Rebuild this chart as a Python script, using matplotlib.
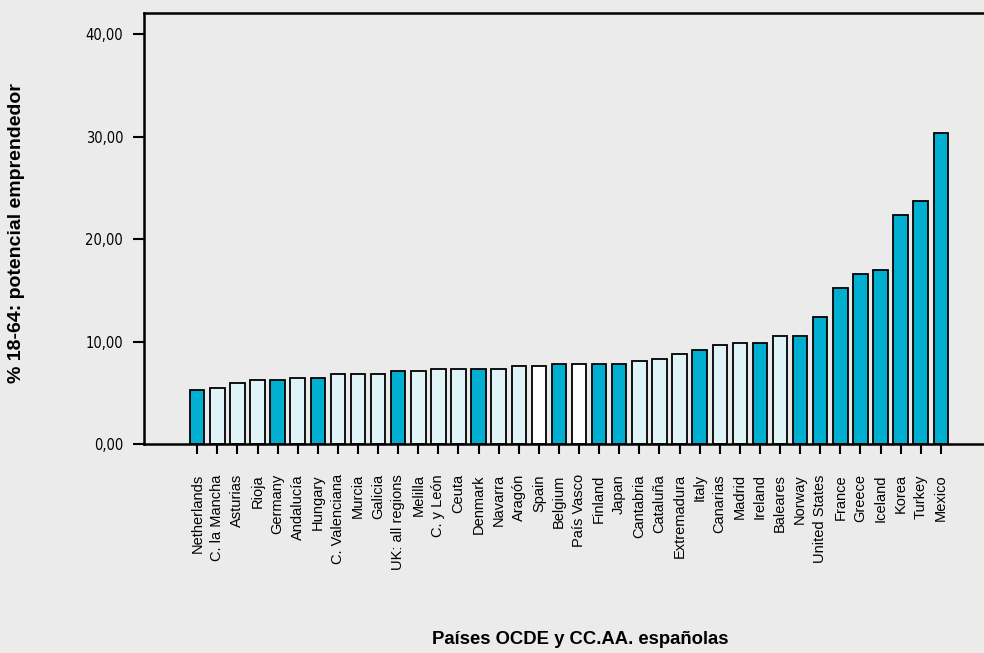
import matplotlib
matplotlib.use('Agg')
import matplotlib.pyplot as plt
from matplotlib import font_manager
import numpy as np

# Potencial emprendedor, países OCDE y CC.AA.
paises = ['Netherlands', 'C. la Mancha', 'Asturias', 'Rioja', 'Germany', 'Andalucía',
          'Hungary', 'C. Valenciana', 'Murcia', 'Galicia', 'UK: all regions', 'Melilla',
          'C. y León', 'Ceuta', 'Denmark', 'Navarra', 'Aragón', 'Spain', 'Belgium',
          'País Vasco', 'Finland', 'Japan', 'Cantabria', 'Cataluña', 'Extremadura',
          'Italy', 'Canarias', 'Madrid', 'Ireland', 'Baleares', 'Norway', 'United States',
          'France', 'Greece', 'Iceland', 'Korea', 'Turkey', 'Mexico']
valores = [5.27, 5.5, 5.95, 6.2, 6.2, 6.4, 6.4, 6.86, 6.86, 6.86, 7.12, 7.12,
           7.35, 7.35, 7.35, 7.35, 7.58, 7.58, 7.8, 7.8, 7.8, 7.8, 8.07, 8.29, 8.75,
           9.2, 9.66, 9.88, 9.88, 10.57, 10.57, 12.42, 15.19, 16.59, 17.0, 22.31, 23.68, 30.37]
# tipo: 'o' = país OCDE, 'r' = comunidad autónoma, 'e' = España / País Vasco
tipo = ['o', 'r', 'r', 'r', 'o', 'r', 'o', 'r', 'r', 'r', 'o', 'r',
        'r', 'r', 'o', 'r', 'r', 'e', 'o', 'e', 'o', 'o', 'r', 'r', 'r',
        'o', 'r', 'r', 'o', 'r', 'o', 'o', 'o', 'o', 'o', 'o', 'o', 'o']
colores = {'o': '#00AECF', 'r': '#E0F3F7', 'e': '#FFFFFF'}

# fuente estrecha para los números del eje y
nombres = {f.name for f in font_manager.fontManager.ttflist}
if 'Liberation Sans Narrow' in nombres:
    fuente_y = dict(family='Liberation Sans Narrow', fontsize=11)
else:
    fuente_y = dict(family='DejaVu Sans', stretch='condensed', fontsize=10.5)

fondo = '#EBEBEB'
fig = plt.figure(figsize=(9.84, 6.53), dpi=100, facecolor=fondo)
ax = fig.add_axes([144/984, 1-444/653, 1-144/984, (444-13)/653])
ax.set_facecolor(fondo)

x = np.arange(len(paises))
ax.bar(x, valores, width=0.72, color=[colores[t] for t in tipo],
       edgecolor='black', linewidth=1.3)

ax.set_xlim(-2.65, 39.15)
ax.set_ylim(0, 42.05)
ax.set_yticks([0, 10, 20, 30, 40])
ax.set_yticklabels(['0,00', '10,00', '20,00', '30,00', '40,00'], **fuente_y)
ax.set_xticks(x)
ax.set_xticklabels(paises, rotation=90, family='Liberation Sans', fontsize=10.5)
ax.tick_params(axis='y', length=8, width=1.5, pad=7)
ax.tick_params(axis='x', length=7.2, width=1.5, pad=14.5)

ax.spines['right'].set_visible(False)
for s in ['left', 'top', 'bottom']:
    ax.spines[s].set_linewidth(1.8)

fig.text(17/984, 1-233/653, '% 18-64: potencial emprendedor', rotation=90,
         ha='center', va='center', fontsize=14, fontweight='bold', family='Liberation Sans')
fig.text(580/984, 1-640/653, 'Países OCDE y CC.AA. españolas',
         ha='center', va='center', fontsize=13.3, fontweight='bold', family='Liberation Sans')

fig.savefig('out.png', dpi=100, facecolor=fondo)
